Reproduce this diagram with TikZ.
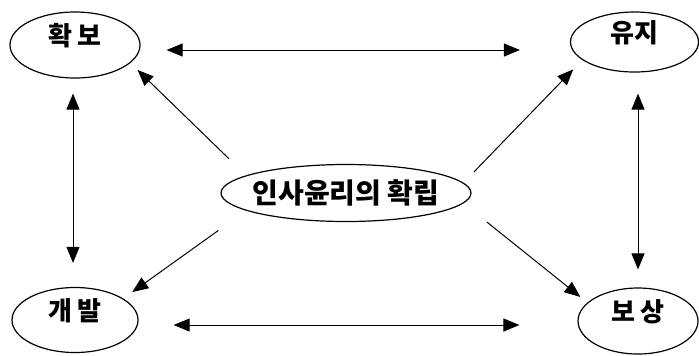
\documentclass[tikz,border=0pt]{standalone}
\usepackage{fontspec}
\newfontfamily\krfont{Noto Sans CJK KR}
\usetikzlibrary{shapes.geometric,arrows.meta}

\tikzset{
    goal/.style={draw,ellipse,line width=0.6pt,inner sep=0pt,
        font=\krfont\bfseries\fontsize{13}{13}\selectfont,
        text height=10pt,text depth=10pt},
    hub/.style={draw,ellipse,line width=0.6pt,inner xsep=-10pt,inner ysep=0pt,
        minimum width=125pt,minimum height=28.5pt,
        font=\krfont\bfseries\fontsize{14}{14}\selectfont},
    link/.style={line width=0.5pt,-{Triangle[length=8pt,width=6.5pt]}},
    twoway/.style={line width=0.5pt,
        {Triangle[length=8pt,width=6.5pt]}-{Triangle[length=8pt,width=6.5pt]}}
}

\begin{document}
\begin{tikzpicture}[x=0.5pt,y=-0.5pt]

% Page background
\fill[white] (0,0) rectangle (699,355);
\useasboundingbox (0,0) rectangle (699,355);

% =====================================================
% FOUR CORNER GOALS
% =====================================================
\node[goal,minimum width=65pt,minimum height=33pt] (hwakbo) at (75,45) {확\,보};
\node[goal,minimum width=64pt,minimum height=30pt] (yuji) at (634.5,42) {유지};
\node[goal,minimum width=63pt,minimum height=32.5pt] (gaebal) at (75,320) {개\,발};
\node[goal,minimum width=60pt,minimum height=33pt] (bosang) at (638,321) {보\,상};

% =====================================================
% CENTRE
% =====================================================
\node[hub] (hub) at (346,193) {인사윤리의\ 확립};

% =====================================================
% CONNECTORS
% =====================================================
% Two-way links between the corners
\draw[twoway,shorten <=13pt,shorten >=25pt]
    ([yshift=-2.5pt]hwakbo.east) -- ([yshift=-2.5pt]hwakbo.east -| yuji.west);
\draw[twoway,shorten <=17.5pt,shorten >=29pt]
    ([yshift=-2.5pt]gaebal.east) -- ([yshift=-2.5pt]gaebal.east -| bosang.west);
\draw[twoway,shorten <=7.5pt,shorten >=12pt]
    ([xshift=-1pt]hwakbo.south) -- ([xshift=-1pt]gaebal.north);
\draw[twoway,shorten <=10.5pt,shorten >=9pt]
    (bosang.north |- yuji.south) -- (bosang.north);

% From the centre out to each corner
\draw[link,shorten <=12pt,shorten >=5pt] (hub.170) -- (hwakbo.-18);
\draw[link,shorten <=7.5pt,shorten >=6.5pt] (hub.5) -- (yuji.199);
\draw[link,shorten <=17pt,shorten >=5.5pt] (hub.190) -- (gaebal.24);
\draw[link,shorten <=15pt,shorten >=4.5pt] (hub.-5) -- (bosang.160);

\end{tikzpicture}
\end{document}
